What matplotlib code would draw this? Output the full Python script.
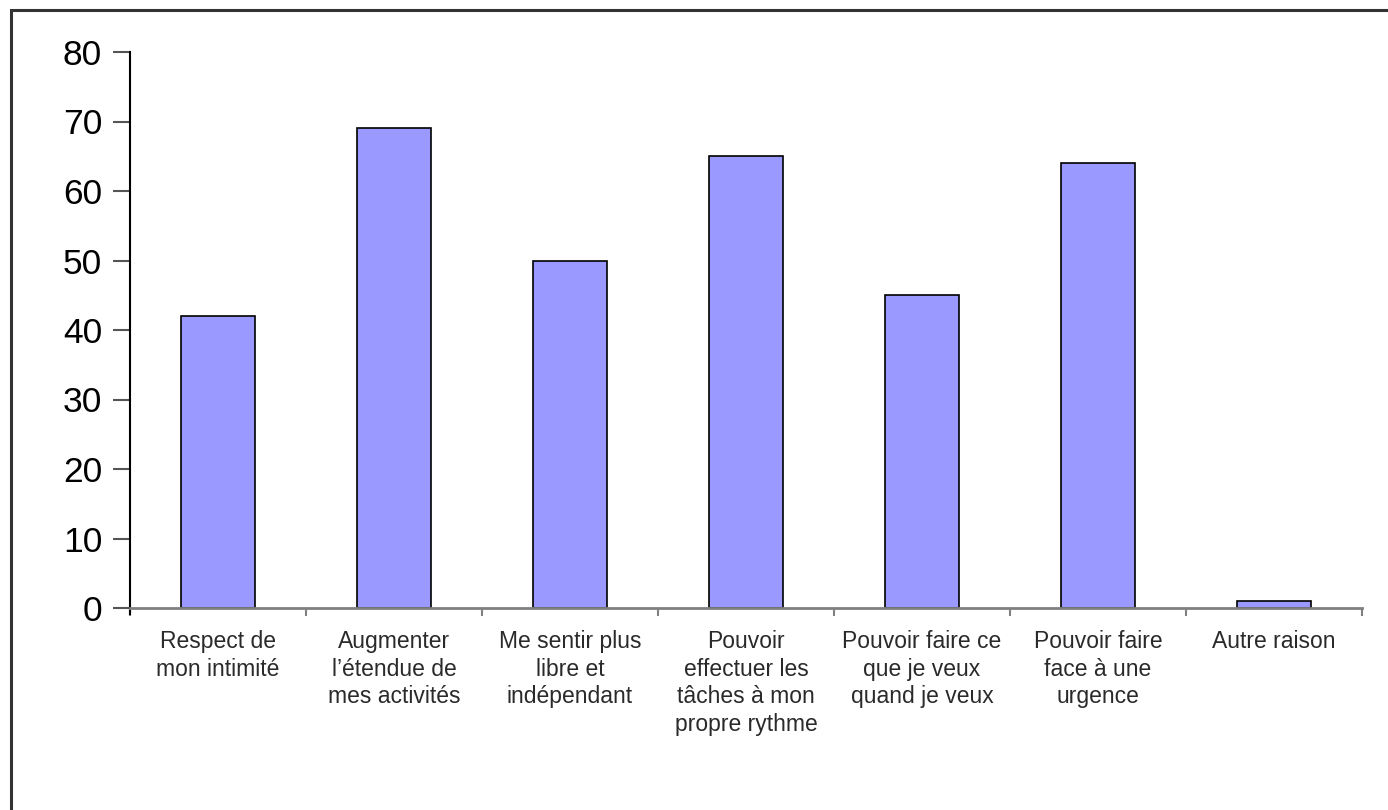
import matplotlib.pyplot as plt
from matplotlib.patches import Rectangle
import numpy as np

plt.rcParams['font.family'] = ['Liberation Sans', 'DejaVu Sans']

categories = ["Respect de\nmon intimité",
              "Augmenter\nl’étendue de\nmes activités",
              "Me sentir plus\nlibre et\nindépendant",
              "Pouvoir\neffectuer les\ntâches à mon\npropre rythme",
              "Pouvoir faire ce\nque je veux\nquand je veux",
              "Pouvoir faire\nface à une\nurgence",
              "Autre raison"]
values = [42, 69, 50, 65, 45, 64, 1]
yticks = [0, 10, 20, 30, 40, 50, 60, 70, 80]

fig = plt.figure(figsize=(13.88, 8.10), dpi=100)
# frame around the chart area
fig.patches.append(Rectangle((11 / 1388, -0.1), 1.2, 1 - 10 / 810 + 0.1,
                             transform=fig.transFigure, fill=False,
                             edgecolor='#333333', linewidth=2.2))

ax = fig.add_axes([130 / 1388, 1 - 608 / 810, 1232 / 1388, 556 / 810])
x = np.arange(len(categories))
ax.bar(x, values, width=0.42, color='#9999FF', edgecolor='black', linewidth=1.2)

ax.set_xlim(-0.5, len(categories) - 0.5)
ax.set_ylim(0, 80)
ax.set_yticks(yticks)
ax.set_yticklabels([str(v) for v in yticks], fontsize=25.5)

ax.set_xticks(x)
ax.set_xticklabels(categories, fontsize=16.5, linespacing=1.25, color='#2a2a2a')
ax.set_xticks(np.arange(-0.5, len(categories)), minor=True)
ax.tick_params(axis='x', which='major', length=0, pad=16)
ax.tick_params(axis='x', which='minor', length=6, color='#808080', width=1.5, direction='out')
ax.tick_params(axis='y', length=12, color='#555555', width=1.5, pad=8)

for s in ['top', 'right']:
    ax.spines[s].set_visible(False)
ax.spines['left'].set_color('black')
ax.spines['left'].set_linewidth(1.5)
ax.spines['left'].set_bounds(-0.9, 80)
ax.spines['bottom'].set_color('#808080')
ax.spines['bottom'].set_linewidth(2)

fig.savefig('out.png', dpi=100)
